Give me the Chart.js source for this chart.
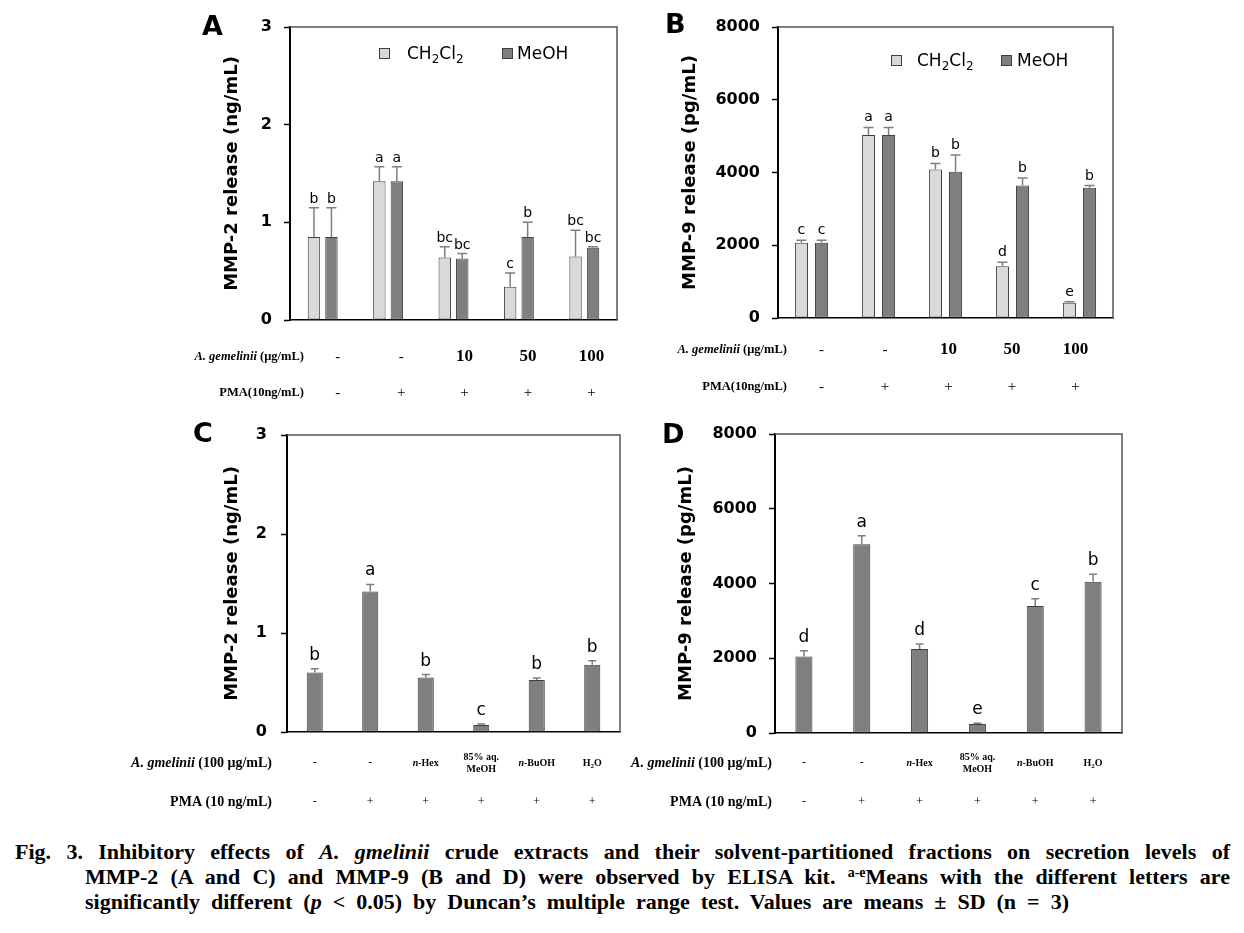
<!DOCTYPE html>
<html><head><meta charset="utf-8">
<script src="https://cdn.jsdelivr.net/npm/chart.js@4.4.1/dist/chart.umd.min.js"></script>
<style>
html,body{margin:0;padding:0;background:#fff;}
body{width:1244px;height:933px;position:relative;overflow:hidden;}
canvas{position:absolute;}
#cap{position:absolute;left:15px;top:839px;width:1215px;font-family:'Liberation Serif','Times New Roman',serif;font-weight:bold;font-size:22px;line-height:25px;color:#000;}
#cap .l1{width:1215px;text-align:justify;text-align-last:justify;}
#cap .l2{margin-left:70px;width:1145px;text-align:justify;text-align-last:justify;}
#cap .l3{margin-left:70px;word-spacing:5.5px;}
#cap sup{font-size:14px;line-height:0;vertical-align:7px;}
</style>
</head><body>
<canvas id="cA" width="630" height="410" style="left:0;top:0"></canvas>
<canvas id="cB" width="614" height="410" style="left:630px;top:0"></canvas>
<canvas id="cC" width="630" height="410" style="left:0;top:410px"></canvas>
<canvas id="cD" width="614" height="410" style="left:630px;top:410px"></canvas>
<div id="cap">
<div class="l1">Fig. 3. Inhibitory effects of <i>A. gmelinii</i> crude extracts and their solvent-partitioned fractions on secretion levels of</div>
<div class="l2">MMP-2 (A and C) and MMP-9 (B and D) were observed by ELISA kit. <sup>a-e</sup>Means with the different letters are</div>
<div class="l3">significantly different (<i>p</i> &lt; 0.05) by Duncan’s multiple range test. Values are means ± SD (n = 3)</div>
</div>
<script>
// ---------- DATA ----------
const categoriesAB = ['Control', 'PMA', 'PMA + 10', 'PMA + 50', 'PMA + 100'];
const doseRowAB = ['-', '-', '10', '50', '100'];
const pmaRowAB = ['-', '+', '+', '+', '+'];

const dcmA = [0.85, 1.42, 0.64, 0.34, 0.65];
const dcmErrA = [0.30, 0.15, 0.11, 0.14, 0.27];
const dcmLettersA = ['b', 'a', 'bc', 'c', 'bc'];
const meohA = [0.85, 1.42, 0.63, 0.85, 0.74];
const meohErrA = [0.30, 0.15, 0.05, 0.15, 0.01];
const meohLettersA = ['b', 'a', 'bc', 'b', 'bc'];
const yTicksA = [0, 1, 2, 3];

const dcmB = [2070, 5030, 4080, 1420, 420];
const dcmErrB = [70, 210, 170, 110, 30];
const dcmLettersB = ['c', 'a', 'b', 'd', 'e'];
const meohB = [2070, 5030, 4020, 3640, 3580];
const meohErrB = [70, 210, 460, 210, 60];
const meohLettersB = ['c', 'a', 'b', 'b', 'b'];
const yTicksB = [0, 2000, 4000, 6000, 8000];

const categoriesCD = ['Control', 'PMA', 'n-Hex', '85% aq. MeOH', 'n-BuOH', 'H2O'];
const fracRowCD = ['-', '-', 'n-Hex', '85% aq. MeOH', 'n-BuOH', 'H2O'];
const pmaRowCD = ['-', '+', '+', '+', '+', '+'];

const valuesC = [0.60, 1.42, 0.55, 0.07, 0.525, 0.68];
const errC = [0.04, 0.07, 0.03, 0.01, 0.02, 0.04];
const lettersC = ['b', 'a', 'b', 'c', 'b', 'b'];
const yTicksC = [0, 1, 2, 3];

const valuesD = [2050, 5050, 2245, 240, 3400, 4050];
const errD = [150, 230, 135, 20, 190, 200];
const lettersD = ['d', 'a', 'd', 'e', 'c', 'b'];
const yTicksD = [0, 2000, 4000, 6000, 8000];

// ---------- STYLE ----------
const SANS = 'DejaVu Sans';
const SERIF = "'Liberation Serif', 'Times New Roman', serif";
const LIGHT = '#d9d9d9', DARK = '#7f7f7f', EDGE = '#404040', FRAME = '#555555';

function drawSegs(ctx, segs, x, y, align) {
  let w = 0;
  segs.forEach(s => { ctx.font = s.f; s.w = ctx.measureText(s.t).width; w += s.w; });
  let cx = align === 'center' ? x - w / 2 : (align === 'right' ? x - w : x);
  ctx.textAlign = 'left';
  segs.forEach(s => { ctx.font = s.f; ctx.fillText(s.t, cx, y + (s.dy || 0)); cx += s.w; });
}

function valueSegs(v, size) {
  const b = `bold ${size}px ${SERIF}`, bi = `italic bold ${size}px ${SERIF}`, sm = `bold ${Math.round(size * 0.7)}px ${SERIF}`;
  if (v.startsWith('n-')) return [[{t: 'n', f: bi}, {t: v.slice(1), f: b}]];
  if (v.includes(' aq. ')) { const p = v.split(' aq. '); return [[{t: p[0] + ' aq.', f: b}], [{t: p[1], f: b}]]; }
  const m = v.match(/^([A-Z])(\d)([A-Z]+)$/);
  if (m) return [[{t: m[1], f: b}, {t: m[2], f: sm, dy: 3}, {t: m[3], f: b}]];
  return [[{t: v, f: b}]];
}

const extras = {
  id: 'figureExtras',
  beforeDatasetsDraw(chart, args, o) {
    const ctx = chart.ctx, ca = chart.chartArea;
    ctx.save();
    ctx.strokeStyle = FRAME; ctx.lineWidth = 1.5;
    ctx.beginPath(); ctx.moveTo(ca.left, ca.top); ctx.lineTo(ca.right, ca.top); ctx.lineTo(ca.right, ca.bottom); ctx.stroke();
    ctx.restore();
  },
  afterDatasetsDraw(chart, args, o) {
    const ctx = chart.ctx, ys = chart.scales.y, xs = chart.scales.x;
    ctx.save();
    // error bars and significance letters
    chart.data.datasets.forEach((ds, di) => {
      const meta = chart.getDatasetMeta(di);
      meta.data.forEach((bar, i) => {
        const top = ys.getPixelForValue(ds.data[i] + ds.errors[i]);
        ctx.strokeStyle = o.errColor; ctx.lineWidth = 1.5;
        ctx.beginPath();
        ctx.moveTo(bar.x, bar.y); ctx.lineTo(bar.x, top);
        ctx.moveTo(bar.x - o.cap, top); ctx.lineTo(bar.x + o.cap, top);
        ctx.stroke();
        ctx.fillStyle = '#000'; ctx.font = o.letterFont; ctx.textAlign = 'center'; ctx.textBaseline = 'alphabetic';
        ctx.fillText(ds.letters[i], bar.x, top - o.letterGap);
      });
    });
    // panel letter
    ctx.fillStyle = '#000'; ctx.textAlign = 'left'; ctx.textBaseline = 'alphabetic';
    ctx.font = `bold 27px ${SANS}`;
    ctx.fillText(o.panel.text, o.panel.x, o.panel.y);
    // legend
    if (o.legend) {
      chart.data.datasets.forEach((ds, di) => {
        const it = o.legend.items[di];
        ctx.fillStyle = ds.backgroundColor; ctx.strokeStyle = EDGE; ctx.lineWidth = 1;
        ctx.fillRect(it.sq, o.legend.sqTop, 10, 10);
        ctx.strokeRect(it.sq + 0.5, o.legend.sqTop + 0.5, 10, 10);
        ctx.fillStyle = '#000';
        const f = `17px ${SANS}`, fs = `12px ${SANS}`;
        const segs = ds.label === 'CH2Cl2'
          ? [{t: 'CH', f}, {t: '2', f: fs, dy: 4}, {t: 'Cl', f}, {t: '2', f: fs, dy: 4}]
          : [{t: ds.label, f}];
        drawSegs(ctx, segs, it.tx, o.legend.base, 'left');
      });
    }
    // treatment table under the x axis
    const t = o.table;
    ctx.textBaseline = 'middle'; ctx.fillStyle = '#000';
    const p0 = xs.getPixelForValue(0);
    t.rows.forEach(row => {
      drawSegs(ctx, row.label, t.labelRight, row.y, 'right');
      row.values.forEach((v, i) => {
        const x = p0 + (xs.getPixelForValue(i) - p0) * t.k + t.shift;
        if (v === '-' || v === '+') {
          drawSegs(ctx, [{t: v, f: row.signFont}], x, row.y, 'center');
        } else {
          const lines = valueSegs(v, row.valueSize);
          const lh = row.valueSize + 2;
          lines.forEach((ln, li) => drawSegs(ctx, ln, x, row.y + (li - (lines.length - 1) / 2) * lh, 'center'));
        }
      });
    });
    ctx.restore();
  }
};

function yAxis(ticks, max, title, titlePad, width, tickPad) {
  return {
    min: 0, max: max,
    afterBuildTicks: s => { s.ticks = ticks.map(v => ({value: v})); },
    afterFit: s => { s.width = width; },
    ticks: {font: {family: SANS, weight: 'bold', size: 16}, color: '#000', padding: tickPad, callback: v => String(v)},
    grid: {display: true, drawOnChartArea: false, drawTicks: true, tickLength: 6, tickColor: '#000', tickWidth: 1.5},
    border: {display: true, color: '#000', width: 2},
    title: {display: true, text: title, color: '#000', font: {family: SANS, weight: 'bold', size: 18}, padding: {top: titlePad, bottom: 0}}
  };
}
function xAxis(height) {
  return {
    offset: true,
    afterFit: s => { s.height = height; },
    ticks: {display: false},
    grid: {display: false},
    border: {display: true, color: '#000', width: 1.5}
  };
}

function build(id, labels, datasets, padding, yCfg, xHeight, extrasOpts) {
  return new Chart(document.getElementById(id), {
    type: 'bar',
    data: {labels, datasets},
    options: {
      responsive: false, animation: false, devicePixelRatio: 1,
      layout: {padding},
      scales: {x: xAxis(xHeight), y: yCfg},
      plugins: {legend: {display: false}, tooltip: {enabled: false}, figureExtras: extrasOpts}
    },
    plugins: [extras]
  });
}

function barSet(label, data, errors, letters, color, cat, bar) {
  return {label, data, errors, letters, backgroundColor: color, borderColor: EDGE, borderWidth: 1,
          borderSkipped: false, categoryPercentage: cat, barPercentage: bar};
}

const rowFontAB = `bold 12.5px ${SERIF}`, rowFontABi = `italic bold 12.5px ${SERIF}`;
const rowFontCD = `bold 14px ${SERIF}`, rowFontCDi = `italic bold 14px ${SERIF}`;

// Panel A
build('cA', categoriesAB, [
  barSet('CH2Cl2', dcmA, dcmErrA, dcmLettersA, LIGHT, 0.535, 0.71),
  barSet('MeOH', meohA, meohErrA, meohLettersA, DARK, 0.535, 0.71)
], {left: 0, top: 27, right: 13, bottom: 0},
  yAxis(yTicksA, 3, 'MMP-2 release (ng/mL)', 222, 290, 12), 90,
  {errColor: '#7f7f7f', cap: 5, letterFont: `14px ${SANS}`, letterGap: 5,
   panel: {text: 'A', x: 202, y: 35},
   legend: {sqTop: 48, base: 59, items: [{sq: 379, tx: 407}, {sq: 502, tx: 517}]},
   table: {labelRight: 304, k: 0.97, shift: 15, rows: [
     {y: 357, label: [{t: 'A. gemelinii', f: rowFontABi}, {t: ' (μg/mL)', f: rowFontAB}], values: doseRowAB, signFont: `15px ${SERIF}`, valueSize: 17},
     {y: 393, label: [{t: 'PMA(10ng/mL)', f: rowFontAB}], values: pmaRowAB, signFont: `15px ${SERIF}`, valueSize: 17}
   ]}});

// Panel B
build('cB', categoriesAB, [
  barSet('CH2Cl2', dcmB, dcmErrB, dcmLettersB, LIGHT, 0.6, 0.65),
  barSet('MeOH', meohB, meohErrB, meohLettersB, DARK, 0.6, 0.65)
], {left: 0, top: 27, right: 131, bottom: 0},
  yAxis(yTicksB, 8000, 'MMP-9 release (pg/mL)', 50, 148, 12), 92,
  {errColor: '#7f7f7f', cap: 5, letterFont: `14px ${SANS}`, letterGap: 6,
   panel: {text: 'B', x: 35, y: 33},
   legend: {sqTop: 55, base: 66, items: [{sq: 261, tx: 287}, {sq: 371, tx: 387}]},
   table: {labelRight: 157, k: 0.948, shift: 10, rows: [
     {y: 350, label: [{t: 'A. gemelinii', f: rowFontABi}, {t: ' (μg/mL)', f: rowFontAB}], values: doseRowAB, signFont: `15px ${SERIF}`, valueSize: 17},
     {y: 387, label: [{t: 'PMA(10ng/mL)', f: rowFontAB}], values: pmaRowAB, signFont: `15px ${SERIF}`, valueSize: 17}
   ]}});

// Panel C
build('cC', categoriesCD, [
  barSet('Fraction', valuesC, errC, lettersC, DARK, 1, 0.29)
], {left: 0, top: 25, right: 10, bottom: 0},
  yAxis(yTicksC, 3, 'MMP-2 release (ng/mL)', 222, 287, 14), 88,
  {errColor: '#7f7f7f', cap: 4, letterFont: `17px ${SANS}`, letterGap: 9,
   panel: {text: 'C', x: 193, y: 32},
   table: {labelRight: 272, k: 1, shift: 0, rows: [
     {y: 353, label: [{t: 'A. gmelinii', f: rowFontCDi}, {t: ' (100 μg/mL)', f: rowFontCD}], values: fracRowCD, signFont: `12px ${SERIF}`, valueSize: 10},
     {y: 392, label: [{t: 'PMA (10 ng/mL)', f: rowFontCD}], values: pmaRowCD, signFont: `12px ${SERIF}`, valueSize: 10}
   ]}});

// Panel D
build('cD', categoriesCD, [
  barSet('Fraction', valuesD, errD, lettersD, DARK, 1, 0.295)
], {left: 0, top: 24, right: 122, bottom: 0},
  yAxis(yTicksD, 8000, 'MMP-9 release (pg/mL)', 46, 145, 12), 87,
  {errColor: '#7f7f7f', cap: 4, letterFont: `17px ${SANS}`, letterGap: 9,
   panel: {text: 'D', x: 32, y: 33},
   table: {labelRight: 142, k: 1, shift: 0, rows: [
     {y: 353, label: [{t: 'A. gmelinii', f: rowFontCDi}, {t: ' (100 μg/mL)', f: rowFontCD}], values: fracRowCD, signFont: `12px ${SERIF}`, valueSize: 10},
     {y: 392, label: [{t: 'PMA (10 ng/mL)', f: rowFontCD}], values: pmaRowCD, signFont: `12px ${SERIF}`, valueSize: 10}
   ]}});
</script>
</body></html>
